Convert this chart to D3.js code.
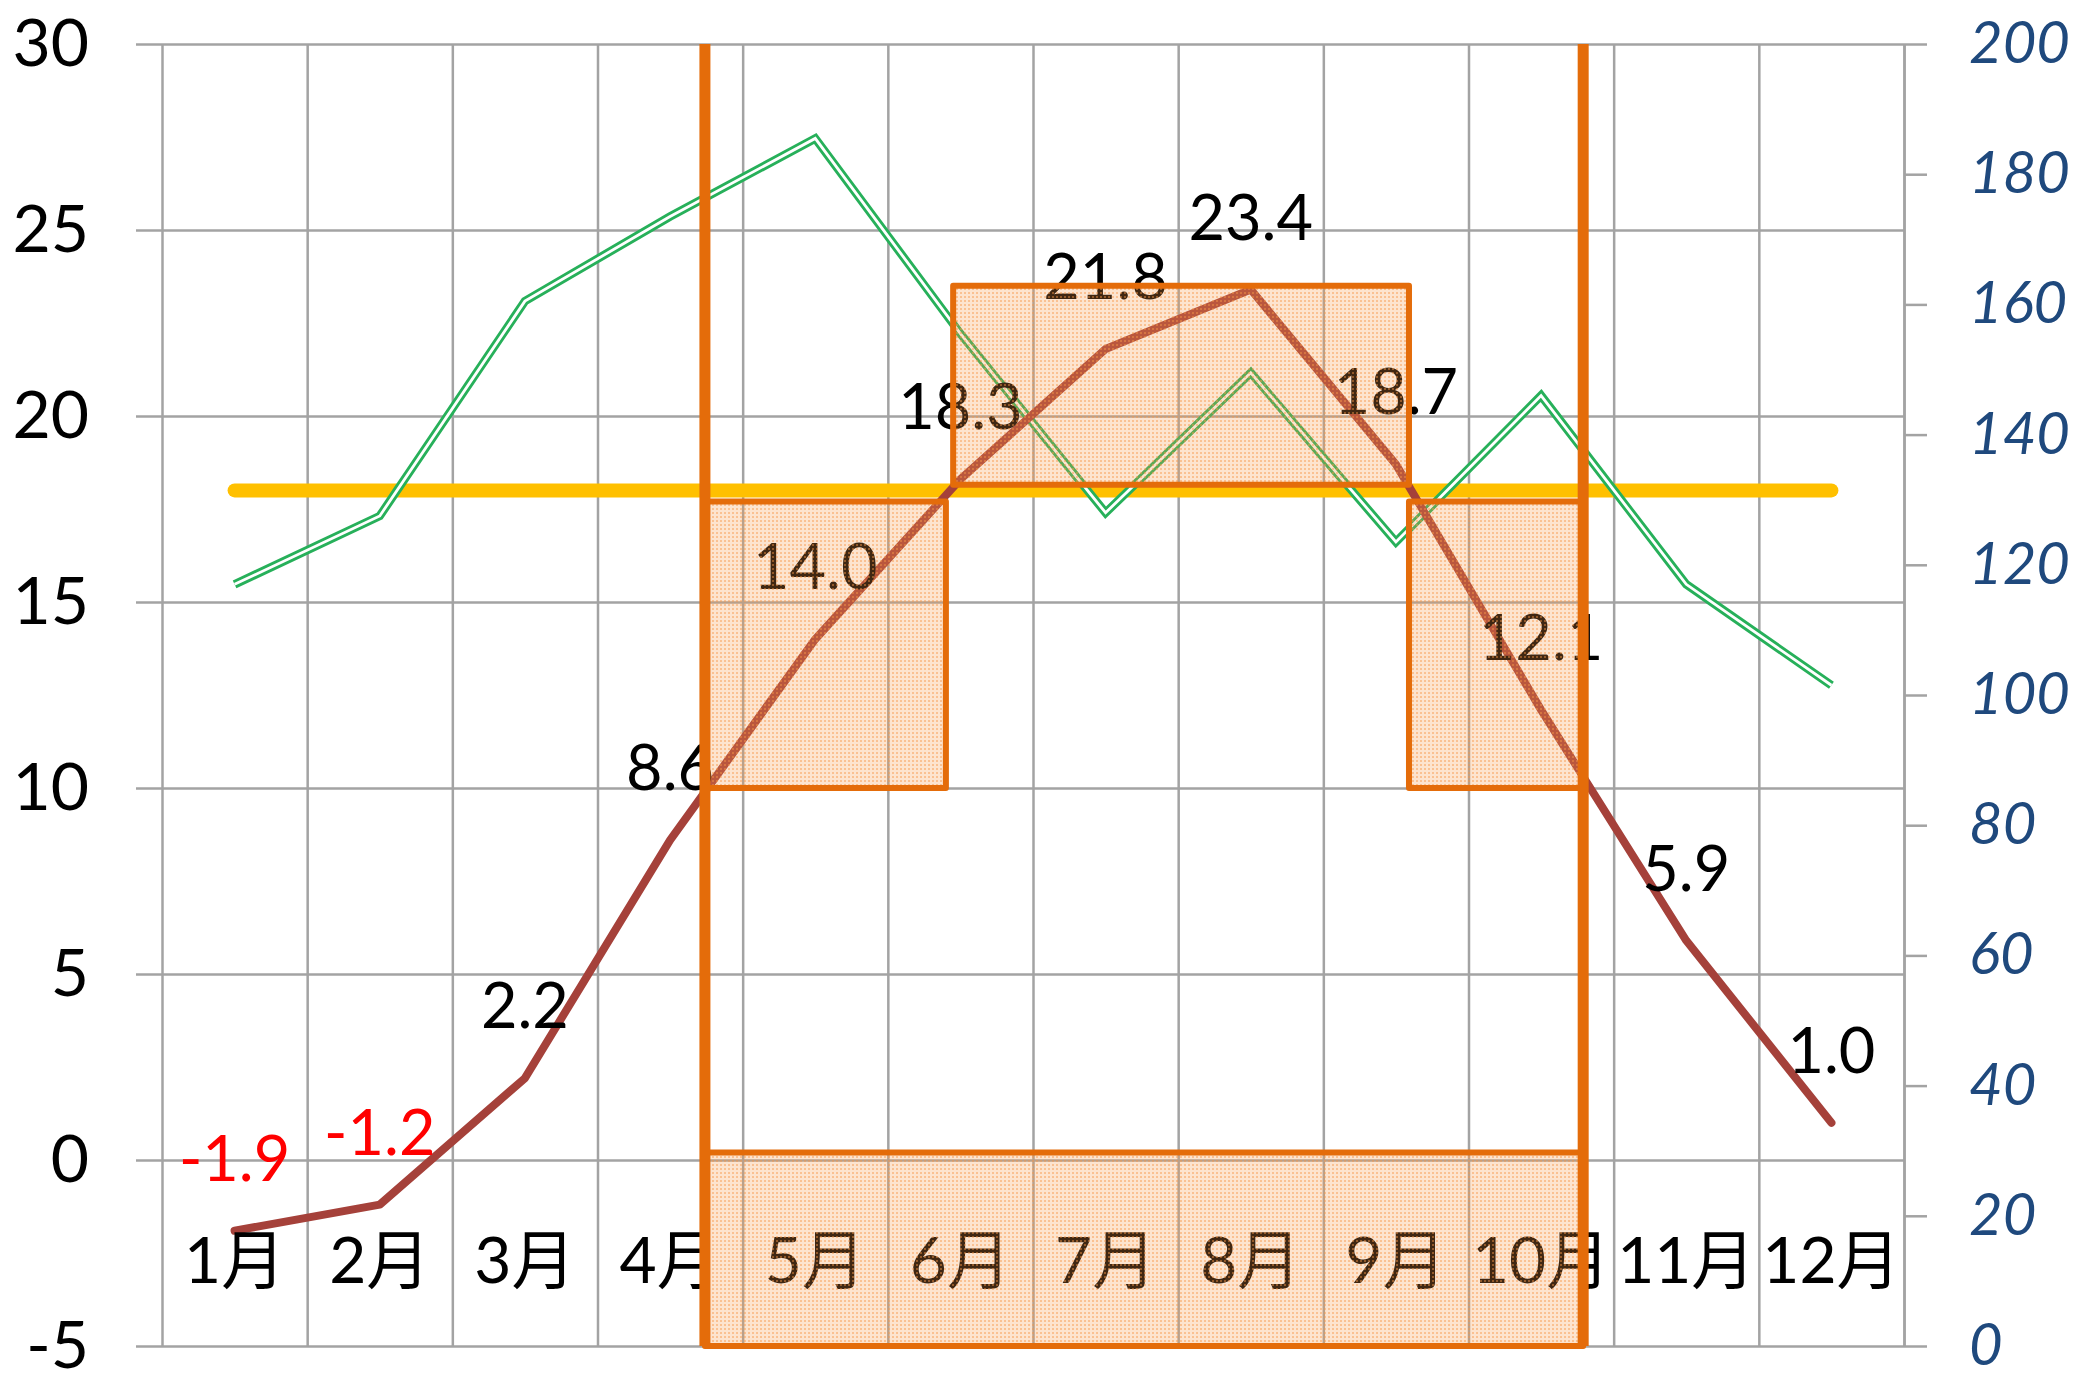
<!DOCTYPE html>
<html lang="ja">
<head>
<meta charset="UTF-8">
<title>気温と降水量</title>
<style>
  body { margin: 0; background: #fff; }
  text { font-family: Lato, "Noto Sans CJK JP", sans-serif; }
</style>
</head>
<body>
<div id="chart"></div>
<script src="https://cdnjs.cloudflare.com/ajax/libs/d3/7.8.5/d3.min.js"></script>
<script>
// data
const months = ["1月", "2月", "3月", "4月", "5月", "6月", "7月", "8月", "9月", "10月", "11月", "12月"];
const temperature = [-1.9, -1.2, 2.2, 8.6, 14.0, 18.3, 21.8, 23.4, 18.7, 12.1, 5.9, 1.0];
const precipitation = [117, 127.5, 160.5, 173.5, 185.5, 155.5, 128, 149.5, 123.5, 146, 117, 101.5];
const tempTicks = [-5, 0, 5, 10, 15, 20, 25, 30];
const precipTicks = [0, 20, 40, 60, 80, 100, 120, 140, 160, 180, 200];
const threshold = 18;

// annotation shapes, in month-position units (0..12) and temperature units
const seasonEdges = [3.74, 9.79];
const boxes = [
  { x0: 3.74, x1: 9.79, y0: -5, y1: 0.2 },
  { x0: 3.74, x1: 5.40, y0: 10, y1: 17.7 },
  { x0: 5.45, x1: 8.59, y0: 18.15, y1: 23.5 },
  { x0: 8.59, x1: 9.79, y0: 10, y1: 17.7 }
];

// layout
const W = 2078, H = 1375;
const plotLeft = 162, plotRight = 1904, plotTop = 44, plotBottom = 1346;
const gridColor = "#a3a3a3";
const orange = "#e46c0a";
const font = "Lato, 'Noto Sans CJK JP', sans-serif";
// plain hyphen for negatives, like the original
const fmt1 = d => d.toFixed(1);
const fmt0 = d => String(d);

const svg = d3.select("#chart").append("svg")
  .attr("width", W).attr("height", H);

const x = d3.scaleBand().domain(months).range([plotLeft, plotRight]).padding(0);
const xPos = d3.scaleLinear().domain([0, 12]).range([plotLeft, plotRight]);
const yT = d3.scaleLinear().domain([-5, 30]).range([plotBottom, plotTop]);
const yP = d3.scaleLinear().domain([0, 200]).range([plotBottom, plotTop]);
const cx = (i) => x(months[i]) + x.bandwidth() / 2;

// fill pattern for the boxes
const pat = svg.append("defs").append("pattern")
  .attr("id", "dots").attr("width", 4).attr("height", 4)
  .attr("patternUnits", "userSpaceOnUse");
pat.append("rect").attr("width", 4).attr("height", 4)
  .attr("fill", "#f79646").attr("fill-opacity", 0.26);
pat.append("rect").attr("width", 2).attr("height", 2)
  .attr("fill", "#f79646").attr("fill-opacity", 0.45);

// horizontal grid
svg.append("g")
  .attr("transform", `translate(${plotLeft},0)`)
  .call(d3.axisLeft(yT).tickValues(tempTicks).tickSize(-(plotRight - plotLeft)).tickFormat(""))
  .call(g => g.select(".domain").remove())
  .call(g => g.selectAll("line").attr("stroke", gridColor).attr("stroke-width", 2.5));

// vertical grid on the category boundaries
svg.append("g")
  .attr("transform", `translate(0,${plotBottom})`)
  .call(d3.axisBottom(xPos).tickValues(d3.range(0, 13)).tickSize(-(plotBottom - plotTop)).tickFormat(""))
  .call(g => g.select(".domain").remove())
  .call(g => g.selectAll("line").attr("stroke", gridColor).attr("stroke-width", 2.5));

// left axis
svg.append("g")
  .attr("transform", `translate(${plotLeft},0)`)
  .call(d3.axisLeft(yT).tickValues(tempTicks).tickFormat(fmt0)
    .tickSizeInner(26).tickSizeOuter(0).tickPadding(47))
  .call(g => g.select(".domain").remove())
  .call(g => g.selectAll("line").attr("stroke", gridColor).attr("stroke-width", 2.5))
  .call(g => g.selectAll("text").attr("font-size", 66).attr("fill", "#000")
    .style("font-family", font));

// right axis
svg.append("g")
  .attr("transform", `translate(${plotRight},0)`)
  .call(d3.axisRight(yP).tickValues(precipTicks).tickFormat(fmt0)
    .tickSizeInner(23).tickSizeOuter(0).tickPadding(42))
  .call(g => g.select(".domain").attr("stroke", gridColor).attr("stroke-width", 2.5))
  .call(g => g.selectAll("line").attr("stroke", gridColor).attr("stroke-width", 2.5))
  .call(g => g.selectAll("text").attr("font-size", 58).attr("fill", "#1f497d")
    .attr("font-style", "italic")
    .style("font-family", font));

// threshold line (18 degrees)
svg.append("line")
  .attr("x1", cx(0)).attr("x2", cx(months.length - 1))
  .attr("y1", yT(threshold)).attr("y2", yT(threshold))
  .attr("stroke", "#ffc000").attr("stroke-width", 14).attr("stroke-linecap", "round");

// precipitation, double green line
const pLine = d3.line().x((d, i) => cx(i)).y(d => yP(d));
svg.append("path").datum(precipitation).attr("d", pLine)
  .attr("fill", "none").attr("stroke", "#27b05a").attr("stroke-width", 8.5)
  .attr("stroke-linejoin", "miter");
svg.append("path").datum(precipitation).attr("d", pLine)
  .attr("fill", "none").attr("stroke", "#fff").attr("stroke-width", 2.8)
  .attr("stroke-linejoin", "miter");

// temperature line
const tLine = d3.line().x((d, i) => cx(i)).y(d => yT(d));
svg.append("path").datum(temperature).attr("d", tLine)
  .attr("fill", "none").attr("stroke", "#a5413a").attr("stroke-width", 8)
  .attr("stroke-linejoin", "round").attr("stroke-linecap", "round");

// temperature data labels
svg.append("g").selectAll("text").data(temperature).join("text")
  .attr("x", (d, i) => cx(i))
  .attr("y", d => yT(d) - 50)
  .attr("text-anchor", "middle")
  .attr("font-size", 63)
  .attr("fill", d => d < 0 ? "#ff0000" : "#000")
  .text(fmt1);

// month labels
svg.append("g").selectAll("text").data(months).join("text")
  .attr("x", (d, i) => cx(i))
  .attr("y", yT(0) + 123)
  .attr("text-anchor", "middle")
  .attr("font-size", 64)
  .attr("fill", "#000")
  .text(d => d);

// growing-season boxes drawn on top
svg.append("g").selectAll("rect").data(boxes).join("rect")
  .attr("x", d => xPos(d.x0))
  .attr("y", d => yT(d.y1))
  .attr("width", d => xPos(d.x1) - xPos(d.x0))
  .attr("height", d => yT(d.y0) - yT(d.y1))
  .attr("fill", "url(#dots)")
  .attr("stroke", orange).attr("stroke-width", 6)
  .attr("stroke-linejoin", "round");

svg.append("g").selectAll("line").data(seasonEdges).join("line")
  .attr("x1", d => xPos(d)).attr("x2", d => xPos(d))
  .attr("y1", yT(30)).attr("y2", yT(-5))
  .attr("stroke", orange).attr("stroke-width", 11);
</script>
</body>
</html>
